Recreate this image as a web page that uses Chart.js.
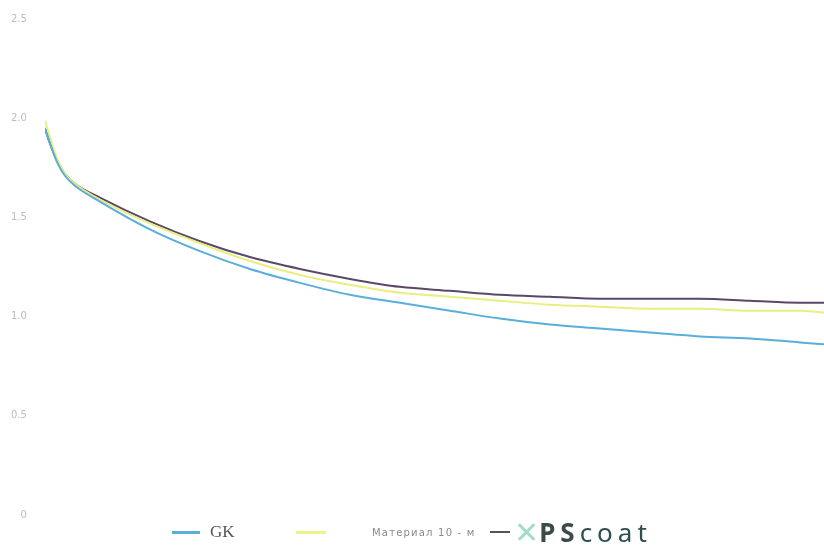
<!DOCTYPE html>
<html>
<head>
<meta charset="utf-8">
<script src="https://cdn.jsdelivr.net/npm/chart.js@4/dist/chart.umd.min.js"></script>
<style>
    html, body { margin: 0; padding: 0; background: #fff; }
    #wrap { position: relative; width: 824px; height: 548px; }
    #legend { position: absolute; left: 0; top: 516px; width: 824px; height: 32px; font-family: "Liberation Serif", serif; }
    .item { position: absolute; top: 0; height: 32px; display: flex; align-items: center; }
    .swatch { display: inline-block; height: 3px; }
</style>
</head>
<body>
<div id="wrap">
    <canvas id="chart" width="824" height="548"></canvas>
    <div id="legend">
        <div class="item" style="left:172px;">
            <span class="swatch" style="width:28px;background:#5aaedb;"></span>
            <span style="margin-left:10px;font-size:17px;color:#555;">GK</span>
        </div>
        <div class="item" style="left:296px;">
            <span class="swatch" style="width:30px;background:#ecf28c;"></span>
            <span style="margin-left:46px;font-family:'DejaVu Sans',sans-serif;font-size:10px;letter-spacing:1.2px;color:#8a8a8a;">Материал 10 - м</span>
        </div>
        <div class="item" style="left:490px;">
            <span class="swatch" style="width:20px;background:#555;height:2px;"></span>
            <span style="margin-left:4px;font-family:'DejaVu Sans',sans-serif;font-size:30px;color:#a3dccb;">✕</span>
            <span style="margin-left:0px;font-family:'Noto Sans',sans-serif;font-size:26px;letter-spacing:5px;font-weight:bold;color:#3c4a4a;">PS<span style="font-weight:normal;color:#2f4f4f;">coat</span></span>
        </div>
    </div>
</div>
<script>
// time axis (hidden) and the three curves
const timePoints = [0, 6, 12, 20, 30, 55, 105, 155, 205, 255, 305, 355, 405, 455, 505, 555, 605, 655, 705, 755, 779];
const gkValues = [1.95, 1.86, 1.78, 1.71, 1.66, 1.58, 1.44, 1.33, 1.24, 1.17, 1.11, 1.07, 1.03, 0.99, 0.96, 0.94, 0.92, 0.90, 0.89, 0.87, 0.86];
const materialValues = [1.99, 1.89, 1.80, 1.72, 1.67, 1.59, 1.47, 1.37, 1.28, 1.21, 1.16, 1.12, 1.10, 1.08, 1.06, 1.05, 1.04, 1.04, 1.03, 1.03, 1.02];
const pscoatValues = [1.95, 1.86, 1.79, 1.72, 1.67, 1.60, 1.48, 1.38, 1.30, 1.24, 1.19, 1.15, 1.13, 1.11, 1.10, 1.09, 1.09, 1.09, 1.08, 1.07, 1.07];
const yTicks = [0, 0.5, 1, 1.5, 2, 2.5];

function toPoints(values) {
    return values.map((v, i) => ({ x: timePoints[i], y: v }));
}

const ctx = document.getElementById('chart').getContext('2d');
new Chart(ctx, {
    type: 'line',
    data: {
        datasets: [{
            label: 'GK',
            data: toPoints(gkValues),
            borderColor: '#5aaedb',
            borderWidth: 2,
            pointRadius: 0,
            cubicInterpolationMode: 'monotone'
        }, {
            label: 'Материал 10 - м',
            data: toPoints(materialValues),
            borderColor: '#e8ef80',
            borderWidth: 2,
            pointRadius: 0,
            cubicInterpolationMode: 'monotone'
        }, {
            label: 'PScoat',
            data: toPoints(pscoatValues),
            borderColor: '#5a4868',
            borderWidth: 2,
            pointRadius: 0,
            cubicInterpolationMode: 'monotone'
        }]
    },
    options: {
        responsive: false,
        animation: false,
        layout: {
            padding: { top: 19, bottom: 33, left: 1, right: 0 }
        },
        plugins: {
            legend: { display: false },
            tooltip: { enabled: false }
        },
        scales: {
            x: {
                type: 'linear',
                min: 0,
                max: 779,
                display: false
            },
            y: {
                min: 0,
                max: 2.5,
                afterBuildTicks: function(axis) {
                    axis.ticks = yTicks.map(v => ({ value: v }));
                },
                grid: { display: false },
                border: { display: false },
                ticks: {
                    color: '#bdbdbd',
                    font: { size: 10, family: 'DejaVu Sans' },
                    padding: 10,
                    callback: function(value) {
                        return value === 0 ? '0' : value.toFixed(1);
                    }
                }
            }
        }
    }
});
</script>
</body>
</html>
